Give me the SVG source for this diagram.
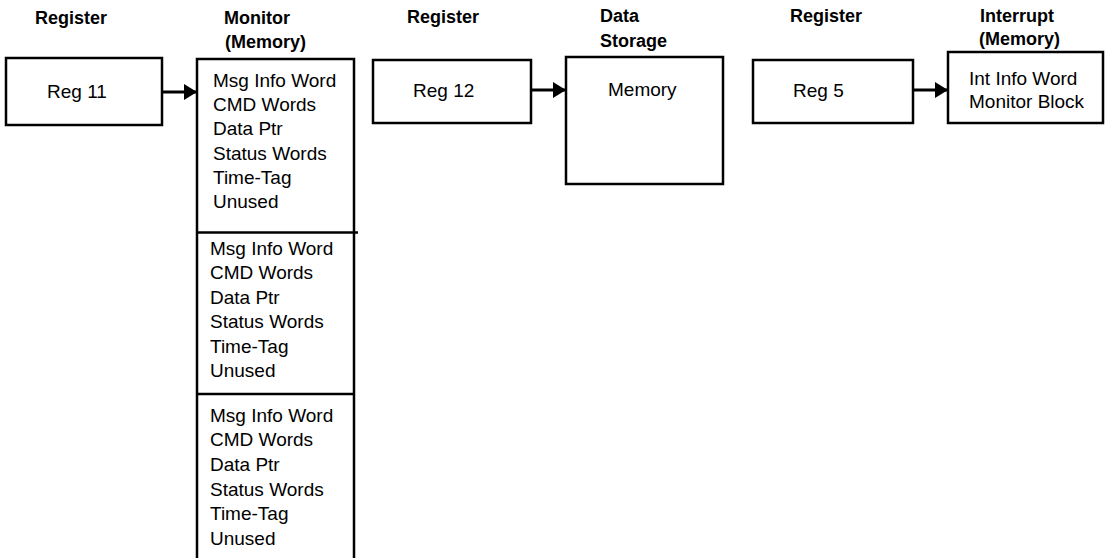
<svg xmlns="http://www.w3.org/2000/svg" width="1109" height="558" viewBox="0 0 1109 558">
<style>
.box{fill:#fff;stroke:#000;stroke-width:2.5}
.hdr{font-family:"Liberation Sans",Arial,sans-serif;font-weight:bold;font-size:18px;fill:#000}
.txt{font-family:"Liberation Sans",Arial,sans-serif;font-size:19px;fill:#000}
.conn{stroke:#000;stroke-width:3;fill:none}
.div{stroke:#000;stroke-width:2.5}
</style>
<defs>
<marker id="arr" markerUnits="userSpaceOnUse" markerWidth="14" markerHeight="16" refX="13" refY="8" orient="auto">
<path d="M0,0 L13,8 L0,16 Z" fill="#000"/>
</marker>
</defs>
<rect width="1109" height="558" fill="#fff"/>
<g id="headers">
<text class="hdr" x="35" y="24">Register</text>
<text class="hdr" x="224" y="24">Monitor</text>
<text class="hdr" x="225" y="48">(Memory)</text>
<text class="hdr" x="407" y="23">Register</text>
<text class="hdr" x="600" y="22">Data</text>
<text class="hdr" x="600" y="47">Storage</text>
<text class="hdr" x="790" y="22">Register</text>
<text class="hdr" x="980" y="22">Interrupt</text>
<text class="hdr" x="979" y="45">(Memory)</text>
</g>
<g id="reg11">
<rect class="box" x="6" y="58" width="156" height="67"/>
<text class="txt" x="47" y="98">Reg 11</text>
</g>
<g id="monitor">
<path class="box" d="M197,562 L197,59 L354,59 L354,562"/>
<line class="div" x1="197" y1="232.5" x2="358" y2="232.5"/>
<line class="div" x1="197" y1="394" x2="354" y2="394"/>
<text class="txt" x="213" y="87">Msg Info Word</text>
<text class="txt" x="213" y="111">CMD Words</text>
<text class="txt" x="213" y="135">Data Ptr</text>
<text class="txt" x="213" y="160">Status Words</text>
<text class="txt" x="213" y="184">Time-Tag</text>
<text class="txt" x="213" y="208">Unused</text>
<text class="txt" x="210" y="255">Msg Info Word</text>
<text class="txt" x="210" y="279">CMD Words</text>
<text class="txt" x="210" y="304">Data Ptr</text>
<text class="txt" x="210" y="328">Status Words</text>
<text class="txt" x="210" y="353">Time-Tag</text>
<text class="txt" x="210" y="377">Unused</text>
<text class="txt" x="210" y="422">Msg Info Word</text>
<text class="txt" x="210" y="446">CMD Words</text>
<text class="txt" x="210" y="471">Data Ptr</text>
<text class="txt" x="210" y="496">Status Words</text>
<text class="txt" x="210" y="520">Time-Tag</text>
<text class="txt" x="210" y="545">Unused</text>
</g>
<g id="reg12">
<rect class="box" x="373" y="60" width="158" height="63"/>
<text class="txt" x="413" y="97">Reg 12</text>
</g>
<g id="datastorage">
<rect class="box" x="566" y="57" width="157" height="127"/>
<text class="txt" x="608" y="96">Memory</text>
</g>
<g id="reg5">
<rect class="box" x="753" y="60" width="160" height="63"/>
<text class="txt" x="793" y="97">Reg 5</text>
</g>
<g id="interrupt">
<rect class="box" x="948" y="52" width="155" height="71"/>
<text class="txt" x="969" y="85">Int Info Word</text>
<text class="txt" x="969" y="108">Monitor Block</text>
</g>
<g id="connectors">
<line class="conn" x1="163" y1="92" x2="197" y2="92" marker-end="url(#arr)"/>
<line class="conn" x1="532" y1="90" x2="566" y2="90" marker-end="url(#arr)"/>
<line class="conn" x1="914" y1="90" x2="948" y2="90" marker-end="url(#arr)"/>
</g>
</svg>
